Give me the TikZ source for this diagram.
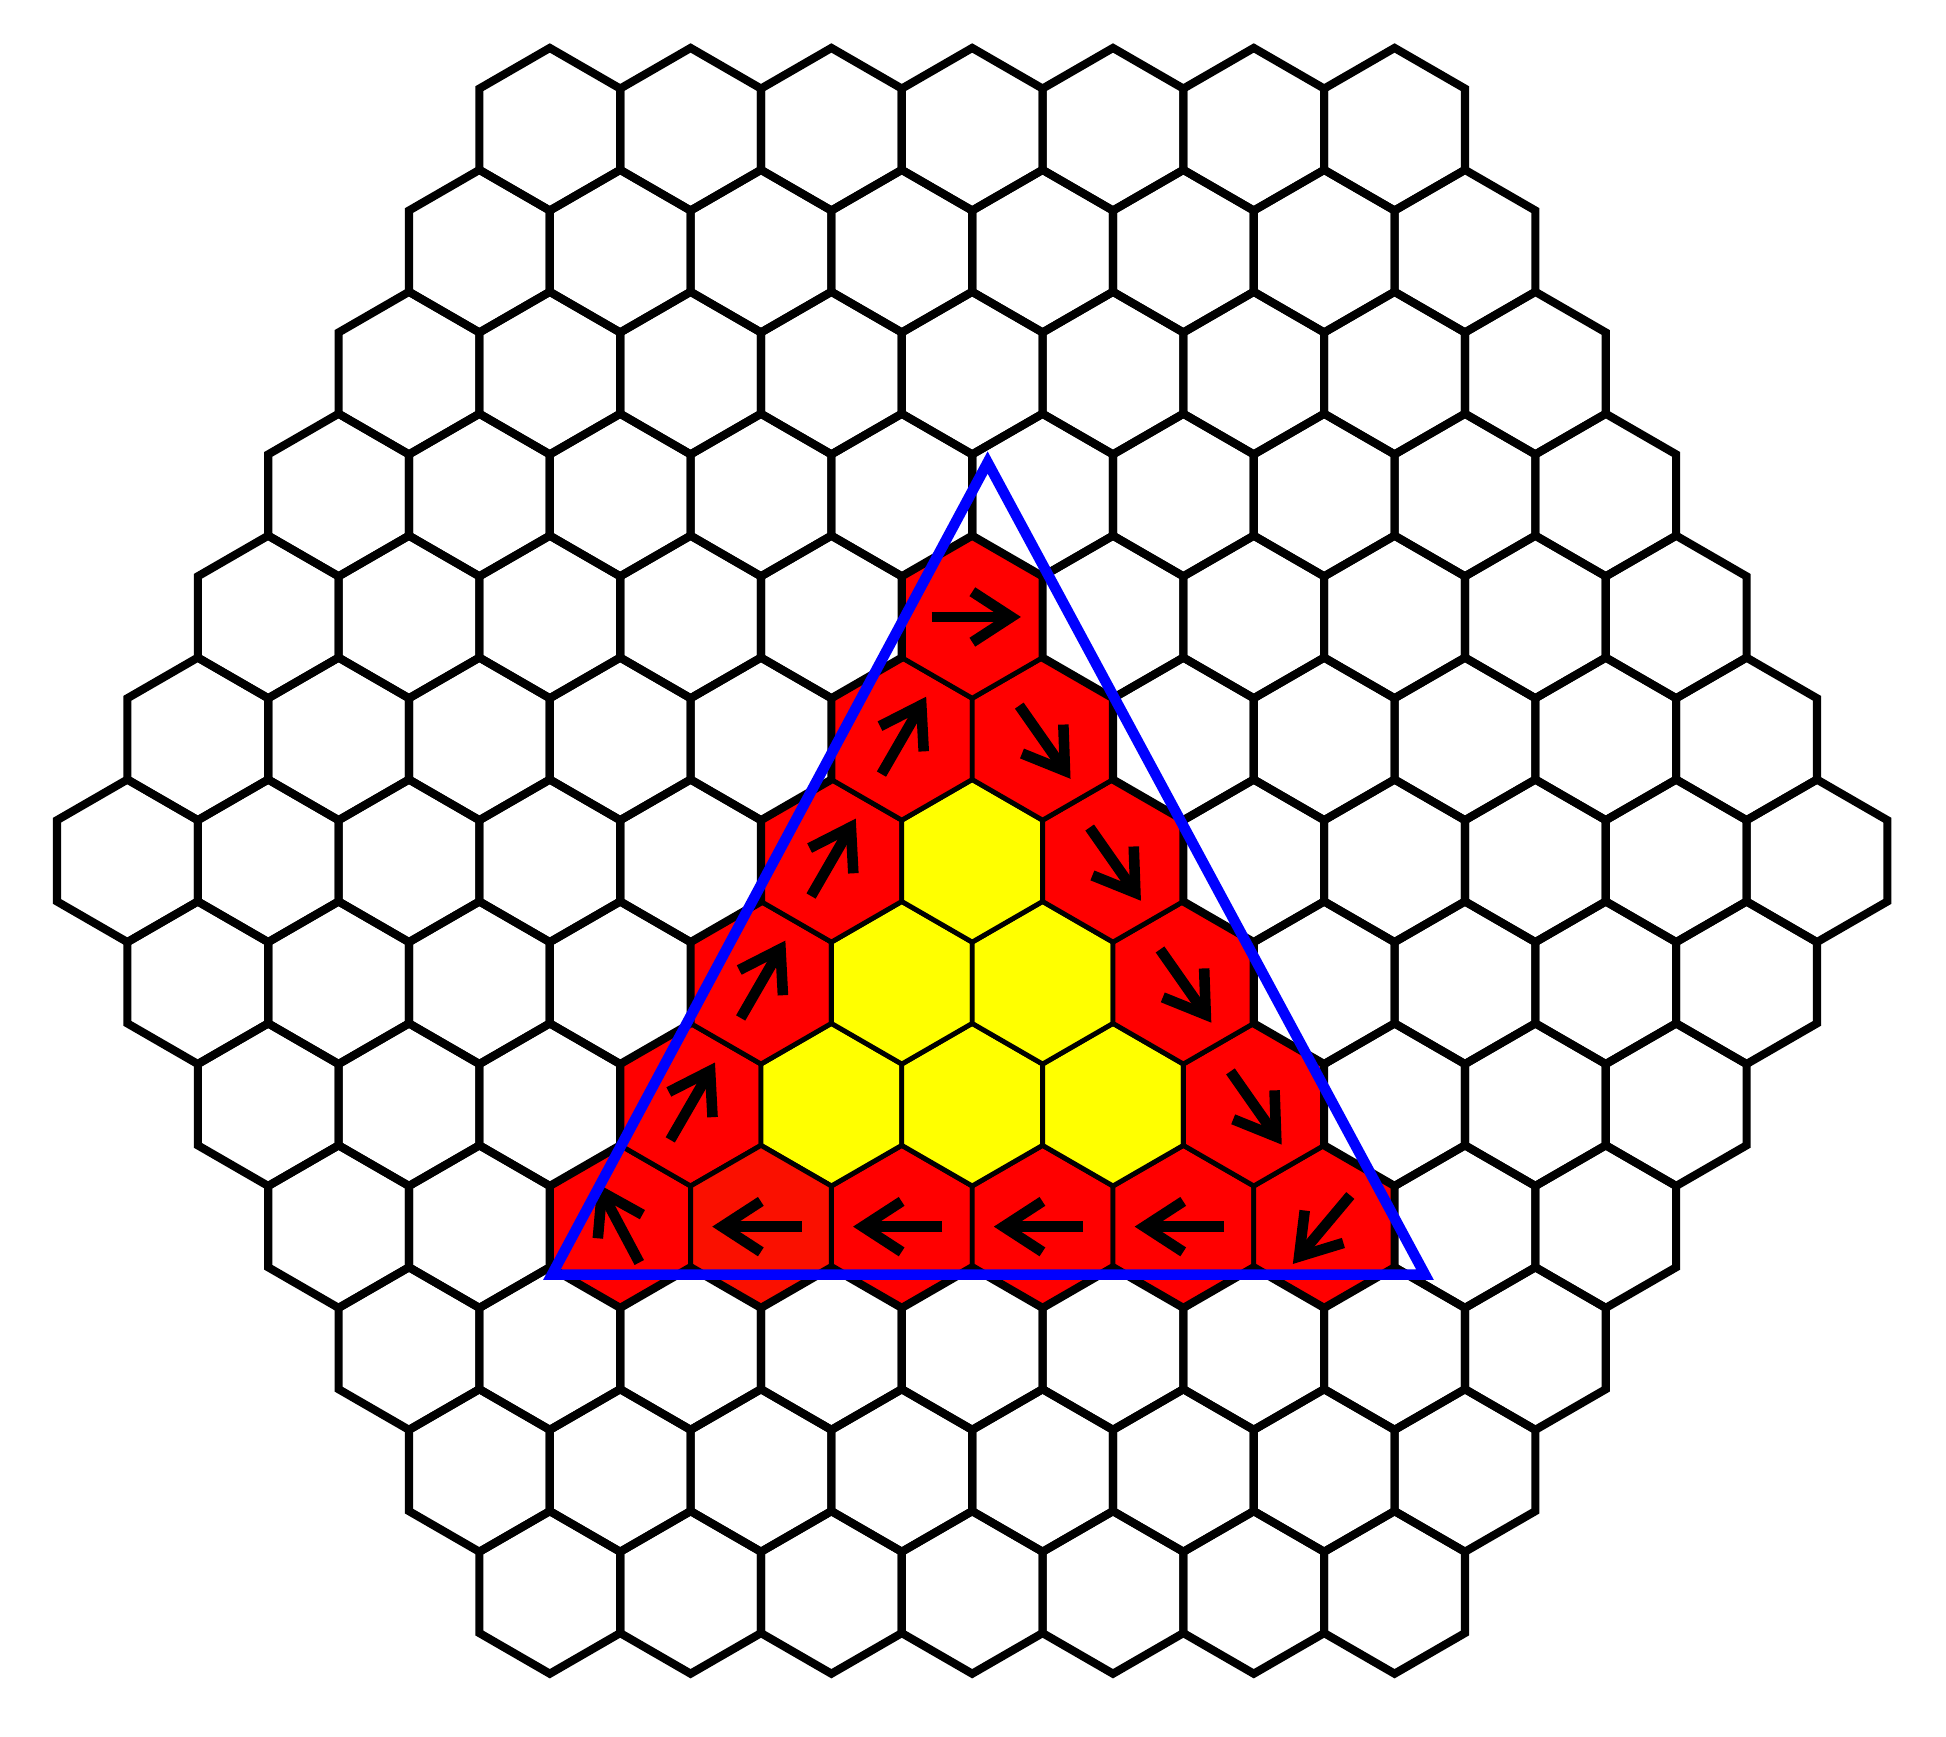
\documentclass[tikz,border=0pt]{standalone}
\usepackage{tikz}
\definecolor{hexred}{RGB}{255,0,0}
\definecolor{hexredb}{RGB}{250,16,0}
\definecolor{hexyellow}{RGB}{255,255,0}
\definecolor{triblue}{RGB}{0,0,255}
\tikzset{
  boardhex/.style={draw=black,line width=0.1cm,line join=miter},
  redhex/.style={fill=hexred,draw=black,line width=0.06cm},
  redhexb/.style={fill=hexredb,draw=black,line width=0.06cm},
  yellowhex/.style={fill=hexyellow,draw=black,line width=0.06cm},
  arrowline/.style={draw=black,line width=0.13cm,line cap=butt,line join=miter},
  triline/.style={draw=triblue,line width=0.13cm,line join=miter}
}
\newcommand\hexpath{(30:1) -- (90:1) -- (150:1) -- (210:1) -- (270:1) -- (330:1) -- cycle}
\newcommand\myarrow[3]{%
  \draw[arrowline,shift={(#1,#2)},rotate=#3] (-0.5,0) -- (0.48,0);
  \draw[arrowline,shift={(#1,#2)},rotate=#3] (0.48,0) ++(147:0.57) -- (0.48,0) -- ++(213:0.57);
}
\begin{document}
\begin{tikzpicture}
\useasboundingbox (-11.96,-10.77) rectangle (11.98,10.59);
\pgfmathsetmacro\w{sqrt(3)}
% coloured hexes (thin borders)
\foreach \r in {-3,...,2} {
  \pgfmathtruncatemacro\n{13-abs(\r)}
  \pgfmathtruncatemacro\last{\n-1}
  \pgfmathtruncatemacro\j{2-\r}
  \foreach \k in {0,...,\last} {
    \pgfmathtruncatemacro\d{abs(2*\k-\n+1)}
    \pgfmathtruncatemacro\col{\d<\j+1 ? 1 : 0}
    \pgfmathtruncatemacro\yel{and(\d<\j-1, and(\r<1,\r>-3)) ? 1 : 0}
    \pgfmathsetmacro\xx{(\k-(\n-1)/2)*\w}
    \pgfmathsetmacro\yy{1.5*\r}
    \ifnum\col=1
      \ifnum\yel=1
        \path[yellowhex,shift={(\xx,\yy)}] \hexpath;
      \else
        \path[redhex,shift={(\xx,\yy)}] \hexpath;
      \fi
    \fi
  }
}
% slightly different red hex
\path[redhexb,shift={(-1.5*\w,-4.5)}] \hexpath;
% white board hexes (thick borders)
\foreach \r in {-6,...,6} {
  \pgfmathtruncatemacro\n{13-abs(\r)}
  \pgfmathtruncatemacro\last{\n-1}
  \pgfmathtruncatemacro\j{2-\r}
  \foreach \k in {0,...,\last} {
    \pgfmathtruncatemacro\d{abs(2*\k-\n+1)}
    \pgfmathtruncatemacro\col{and(and(\r<3,\r>-4),\d<\j+1) ? 1 : 0}
    \pgfmathsetmacro\xx{(\k-(\n-1)/2)*\w}
    \pgfmathsetmacro\yy{1.5*\r}
    \ifnum\col=0
      \path[boardhex,shift={(\xx,\yy)}] \hexpath;
    \fi
  }
}
% arrows
\myarrow{0}{3}{0}
\myarrow{-0.5*\w}{1.5}{60}
\myarrow{-1.0*\w}{0}{60}
\myarrow{-1.5*\w}{-1.5}{60}
\myarrow{-2.0*\w}{-3}{60}
\myarrow{0.5*\w}{1.5}{-55}
\myarrow{1.0*\w}{0}{-55}
\myarrow{1.5*\w}{-1.5}{-55}
\myarrow{2.0*\w}{-3}{-55}
\myarrow{-2.5*\w}{-4.5}{118}
\myarrow{-1.5*\w}{-4.5}{180}
\myarrow{-0.5*\w}{-4.5}{180}
\myarrow{0.5*\w}{-4.5}{180}
\myarrow{1.5*\w}{-4.5}{180}
\myarrow{2.5*\w}{-4.5}{230}
% blue triangle
\coordinate (apex) at (0.19,4.90);
\coordinate (bl) at (-5.17,-5.09);
\coordinate (br) at (5.57,-5.09);
\draw[triline] (apex) -- (bl) -- (br) -- cycle;
\end{tikzpicture}
\end{document}
